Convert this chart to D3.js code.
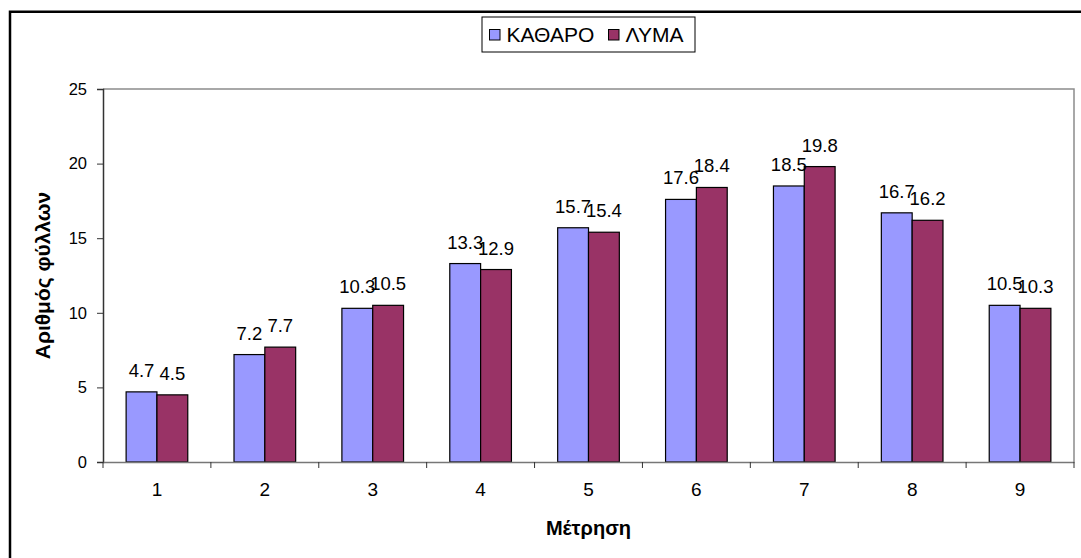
<!DOCTYPE html>
<html><head><meta charset="utf-8">
<script src="https://cdn.jsdelivr.net/npm/d3@7"></script>
<style>body{margin:0;background:#fff}svg{display:block;font-family:Arial,"Liberation Sans",sans-serif}</style>
</head><body><svg id="c" width="1081" height="558"></svg>
<script>
const categories = ["1","2","3","4","5","6","7","8","9"];
const seriesNames = ["ΚΑΘΑΡΟ","ΛΥΜΑ"];
const katharo = [4.7,7.2,10.3,13.3,15.7,17.6,18.5,16.7,10.5];
const lyma = [4.5,7.7,10.5,12.9,15.4,18.4,19.8,16.2,10.3];
const yTicks = [0,5,10,15,20,25];
const colors = ["#9999FF","#993366"];

const svg = d3.select("#c");
const m = {l:103, r:1074, t:89, b:462};
// outer border (image cropped at right and bottom)
svg.append("path").attr("d","M10,558 V11.8 H1081").attr("fill","none").attr("stroke","#000").attr("stroke-width",2.5);

const x = d3.scaleBand().domain(categories).range([m.l,m.r]).paddingInner(0).paddingOuter(0);
const x1 = d3.scaleBand().domain(seriesNames).range([0,x.bandwidth()]).paddingInner(0).paddingOuter(0.75);
const y = d3.scaleLinear().domain([0,25]).range([m.b,m.t]);

// plot border top/right
svg.append("path").attr("d",`M${m.l},${m.t} H${m.r} V${m.b}`).attr("fill","none").attr("stroke","#8c8c8c").attr("stroke-width",1.5);

const data = categories.map((c,i)=>({c, vals:[katharo[i],lyma[i]]}));
const g = svg.append("g");
data.forEach(d=>{
  d.vals.forEach((v,j)=>{
    g.append("rect").attr("x",x(d.c)+x1(seriesNames[j])).attr("y",y(v))
      .attr("width",x1.bandwidth()).attr("height",y(0)-y(v))
      .attr("fill",colors[j]).attr("stroke","#000").attr("stroke-width",1.2);
  });
});
data.forEach(d=>{
  d.vals.forEach((v,j)=>{
    g.append("text").attr("x",x(d.c)+x1(seriesNames[j])+x1.bandwidth()/2).attr("y",y(v)-15)
      .attr("text-anchor","middle").attr("font-size",18.5).attr("fill","#000").text(v.toFixed(1));
  });
});

// y axis
const ya = svg.append("g").attr("transform",`translate(${m.l},0)`)
  .call(d3.axisLeft(y).tickValues(yTicks).tickSize(6).tickPadding(10).tickFormat(d3.format("d")));
ya.select(".domain").attr("stroke","#333").attr("stroke-width",1.5);
ya.selectAll(".tick line").attr("stroke","#333");
ya.selectAll("text").attr("font-size",16.5).attr("font-family","Arial, 'Liberation Sans', sans-serif").attr("fill","#000");

// x axis
const xa = svg.append("g").attr("transform",`translate(0,${m.b})`)
  .call(d3.axisBottom(x).tickSize(0).tickPadding(21));
xa.select(".domain").attr("stroke","#777").attr("stroke-width",1.5);
xa.selectAll("text").attr("font-size",19).attr("font-family","Arial, 'Liberation Sans', sans-serif").attr("fill","#000");
// category boundary ticks
const bounds = categories.map(c=>x(c)).concat([m.r]);
xa.selectAll(".bt").data(bounds).join("line").attr("x1",d=>d).attr("x2",d=>d).attr("y1",0).attr("y2",6).attr("stroke","#333");

// titles
svg.append("text").attr("transform",`translate(43,${(m.t+m.b)/2}) rotate(-90)`).attr("text-anchor","middle")
  .attr("dy","0.35em").attr("font-size",21).attr("font-weight","bold").text("Αριθμός φύλλων");
svg.append("text").attr("x",(m.l+m.r)/2).attr("y",535).attr("text-anchor","middle")
  .attr("font-size",20).attr("font-weight","bold").text("Μέτρηση");

// legend
const lg = svg.append("g");
lg.append("rect").attr("x",482).attr("y",17).attr("width",213).attr("height",35).attr("fill","#fff").attr("stroke","#000").attr("stroke-width",1);
const lx = [489.5,608.5];
seriesNames.forEach((s,i)=>{
  lg.append("rect").attr("x",lx[i]).attr("y",29.5).attr("width",10.5).attr("height",10.5).attr("fill",colors[i]).attr("stroke","#000");
  lg.append("text").attr("x",lx[i]+17).attr("y",41.5).attr("font-size",21).text(s);
});
</script></body></html>
